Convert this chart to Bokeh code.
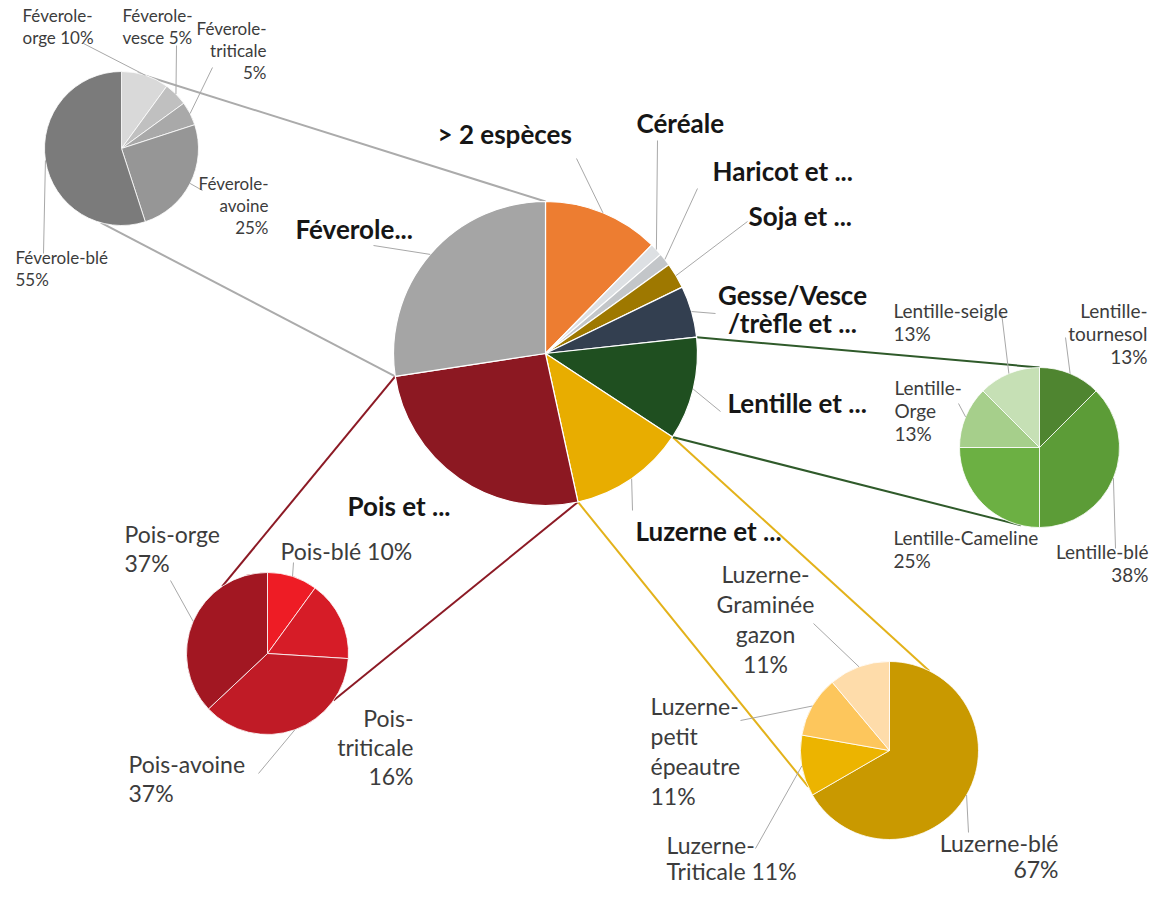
import math
from bokeh.plotting import figure
from bokeh.models import Range1d, ColumnDataSource
from bokeh.embed import file_html
from bokeh.resources import INLINE
from bokeh.core.properties import value

H = 903  # reference page height, used to flip pixel y to data y

# ---------------- data ----------------
main_labels = ["> 2 espèces", "Céréale", "Haricot et ...", "Soja et ...",
               "Gesse/Vesce\n/trèfle et ...", "Lentille et ...", "Luzerne et ...",
               "Pois et ...", "Féverole..."]
main_counts = [9, 1, 1, 2, 4, 8, 9, 19, 20]
main_colors = ["#ed7d31", "#dde0e3", "#c3c6c9", "#9e7800", "#333f50",
               "#1f4f20", "#e8ad00", "#8c1822", "#a5a5a5"]

fev_labels = ["Féverole-\norge", "Féverole-\nvesce", "Féverole-\ntriticale",
              "Féverole-\navoine", "Féverole-blé"]
fev_counts = [2, 1, 1, 5, 11]
fev_pct = ["10%", "5%", "5%", "25%", "55%"]
fev_colors = ["#d9d9d9", "#c0c0c0", "#a9a9a9", "#969696", "#7b7b7b"]

len_labels = ["Lentille-\ntournesol", "Lentille-blé", "Lentille-Cameline",
              "Lentille-\nOrge", "Lentille-seigle"]
len_counts = [1, 3, 2, 1, 1]
len_pct = ["13%", "38%", "25%", "13%", "13%"]
len_colors = ["#4f8530", "#5c9c37", "#6cb043", "#a6cf8b", "#c6e0b5"]

pois_labels = ["Pois-blé", "Pois-\ntriticale", "Pois-avoine", "Pois-orge"]
pois_pct_values = [10, 16, 37, 37]
pois_pct = ["10%", "16%", "37%", "37%"]
pois_colors = ["#ee1c25", "#d61c27", "#c01b26", "#a21722"]

luz_labels = ["Luzerne-blé", "Luzerne-\nTriticale", "Luzerne-\npetit\népeautre",
              "Luzerne-\nGraminée\ngazon"]
luz_counts = [6, 1, 1, 1]
luz_pct = ["67%", "11%", "11%", "11%"]
luz_colors = ["#c99900", "#ecb400", "#fdc65c", "#fedcaa"]

# ---------------- layout ----------------
W_FIG, H_FIG = 1151, 887
p = figure(width=W_FIG, height=H_FIG, output_backend="svg", toolbar_location=None,
           x_range=Range1d(0, W_FIG), y_range=Range1d(H - H_FIG, H),
           x_axis_location=None, y_axis_location=None, min_border=0,
           outline_line_color=None)
p.grid.visible = False
p.background_fill_color = "white"

MAIN = (545, 353, 152)
SUBS = {
    "fev": (121, 148, 77),
    "len": (1039, 447, 80),
    "pois": (267, 653, 81),
    "luz": (889, 750, 89),
}


def bounds(vals):
    tot = float(sum(vals))
    out, c = [], 0.0
    for v in vals:
        a = c / tot * 2 * math.pi
        c += v
        b = c / tot * 2 * math.pi
        out.append((a, b))
    return out


def pt(geom, t, k=1.0):
    cx, cy, r = geom
    return cx + k * r * math.sin(t), (H - cy) + k * r * math.cos(t)


def draw_pie(geom, vals, colors, lw=1.0):
    cx, cy, r = geom
    bb = bounds(vals)
    src = ColumnDataSource(dict(
        x=[cx] * len(vals), y=[H - cy] * len(vals),
        s=[math.pi / 2 - b for a, b in bb], e=[math.pi / 2 - a for a, b in bb],
        c=colors))
    p.wedge(x="x", y="y", radius=r, start_angle="s", end_angle="e",
            fill_color="c", line_color="white", line_width=lw, source=src)
    return bb


def draw_text(lines, x, y0, lh, align, size, bold=False, color="#3c3c3c"):
    xs, ys = [], []
    for i, _ in enumerate(lines):
        xs.append(x)
        ys.append(H - (y0 + i * lh))
    p.text(x=xs, y=ys, text=lines, text_align=align, text_baseline="middle",
           text_font=value("Lato"), text_font_size=f"{size}px",
           text_font_style="bold" if bold else "normal", text_color=color)


# connectors (drawn first, below pies)
main_bb = bounds(main_counts)
conns = [
    (8, 0, "fev", 195.6, "#ababab"), (8, 1, "fev", 12.0, "#ababab"),
    (7, 0, "pois", 125.5, "#8c1a25"), (7, 1, "pois", 326.0, "#8c1a25"),
    (6, 0, "luz", 26.6, "#e3b21a"), (6, 1, "luz", 246.0, "#e3b21a"),
    (5, 0, "len", 0.0, "#2f5a2a"), (5, 1, "len", 193.4, "#2f5a2a"),
]
for idx, which, sub, sang, col in conns:
    x0, y0 = pt(MAIN, main_bb[idx][which])
    x1, y1 = pt(SUBS[sub], math.radians(sang))
    p.line([x0, x1], [y0, y1], line_color=col, line_width=2)

LEAD = "#a8a8a8"


def leaders(geom, bb, anchors, k=1.0):
    xs, ys = [], []
    for (a, b), anc in zip(bb, anchors):
        if anc is None:
            continue
        px, py = pt(geom, (a + b) / 2, k)
        xs.append([anc[0], px])
        ys.append([H - anc[1], py])
    p.multi_line(xs, ys, line_color=LEAD, line_width=1)


# main pie
draw_pie(MAIN, main_counts, main_colors, lw=1.2)
leaders(MAIN, main_bb, [(576, 158), (657, 140), (697, 188), (747, 221), (715, 313),
                        (720, 411), (632, 510), None, (373, 245)])
main_pos = [(437, 133, "left"), (636, 122, "left"), (712, 170, "left"),
            (748, 215, "left"), (792, 294, "center"), (727, 402, "left"),
            (635, 530, "left"), (347, 505, "left"), (295, 228, "left")]
for lab, (x, y, al) in zip(main_labels, main_pos):
    draw_text(lab.split("\n"), x, y, 28, al, 26, bold=True, color="#161616")

# Féverole sub-pie
bb = draw_pie(SUBS["fev"], fev_counts, fev_colors, lw=0.8)
leaders(SUBS["fev"], bb, [(83, 43), (176, 45), (212, 67), (202, 190), (43, 253)])
fev_pos = [(22, 15, "left", " "), (122, 15, "left", " "), (266, 28, "right", "\n"),
           (268, 183, "right", "\n"), (15, 257, "left", "\n")]
for lab, pc, (x, y, al, sep) in zip(fev_labels, fev_pct, fev_pos):
    draw_text((lab + sep + pc).split("\n"), x, y, 22, al, 17)

# Lentille sub-pie
bb = draw_pie(SUBS["len"], len_counts, len_colors, lw=0.8)
leaders(SUBS["len"], bb, [(1065, 337), (1115, 548), None, (958, 403), (1001, 312)])
len_pos = [(1147, 310, "right", "\n"), (1148, 551, "right", "\n"),
           (893, 537, "left", "\n"), (894, 387, "left", "\n"), (893, 310, "left", "\n")]
for lab, pc, (x, y, al, sep) in zip(len_labels, len_pct, len_pos):
    draw_text((lab + sep + pc).split("\n"), x, y, 23, al, 19)

# Pois sub-pie
bb = draw_pie(SUBS["pois"], pois_pct_values, pois_colors, lw=0.8)
leaders(SUBS["pois"], bb, [(293, 562), None, (258, 773), (170, 580)])
pois_pos = [(280, 550, "left", " "), (413, 717, "right", "\n"),
            (128, 763, "left", "\n"), (124, 533, "left", "\n")]
for lab, pc, (x, y, al, sep) in zip(pois_labels, pois_pct, pois_pos):
    draw_text((lab + sep + pc).split("\n"), x, y, 29, al, 23)

# Luzerne sub-pie
bb = draw_pie(SUBS["luz"], luz_counts, luz_colors, lw=0.8)
leaders(SUBS["luz"], bb, [(968, 832), (755, 848), (740, 720), (813, 623)])
luz_pos = [(1058, 842, "right", "\n"), (666, 844, "left", " "),
           (650, 705, "left", "\n"), (765, 573, "center", "\n")]
for lab, pc, (x, y, al, sep) in zip(luz_labels, luz_pct, luz_pos):
    lines = (lab + sep + pc).split("\n")
    lh = 26 if len(lines) == 2 else 30
    draw_text(lines, x, y, lh, al, 23)

open("out.html", "w").write(file_html(p, INLINE))
